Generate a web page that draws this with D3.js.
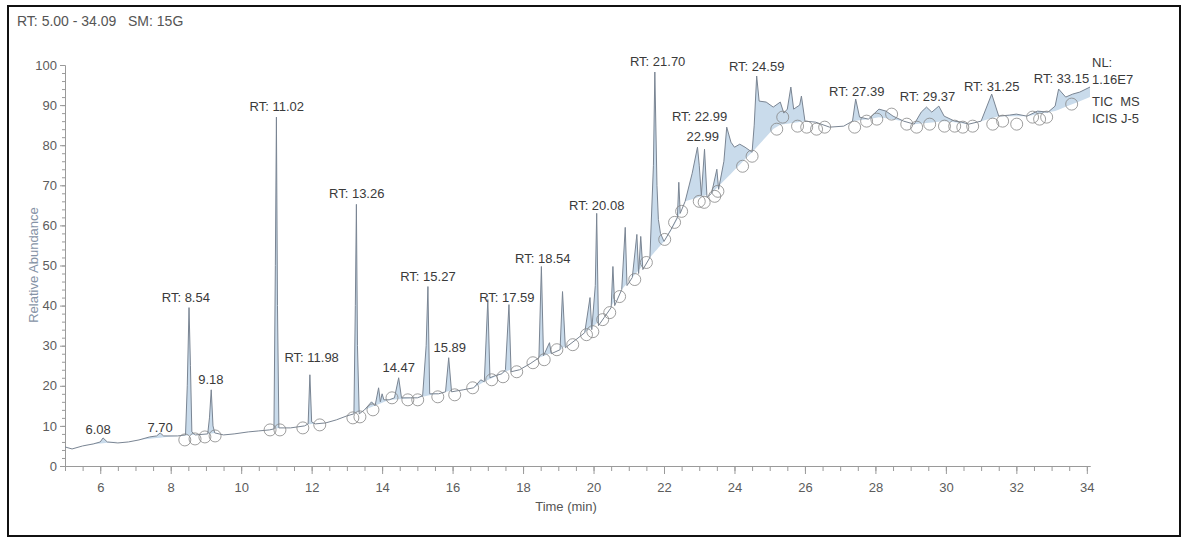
<!DOCTYPE html>
<html lang="en">
  <head>
    <meta charset="UTF-8" />
    <title>TIC chromatogram</title>
    <script src="https://cdn.jsdelivr.net/npm/d3@7"></script>
    <style>
      body { margin: 0; background: #fff; }
      text {
        font-family: "Liberation Sans", Arial, sans-serif;
      }
      .axis text { font-size: 13px; fill: #5c5c5c; }
      .axis path, .axis line { stroke: #9a9a9a; stroke-width: 1px; }
      .peak { font-size: 13px; fill: #3a3a3a; text-anchor: middle; }
      .info { font-size: 13px; fill: #3a3a3a; }
      .trace { fill: none; stroke: #7a8593; stroke-width: 1px; }
      .fillArea { fill: #c9dbeb; }
      .mark { fill: none; stroke: #858585; stroke-width: 0.8px; }
    </style>
  </head>
  <body>
    <script>

    // chromatogram trace: [time (min), relative abundance]
    var trace = [
      [5.00, 4.75], [5.2, 4.25], [5.5, 5.0], [5.8, 5.5], [6.0, 6.0], [6.08, 7.0], [6.2, 6.0],
      [6.5, 5.75], [6.8, 6.0], [7.1, 6.5], [7.4, 7.25], [7.6, 7.5], [7.70, 8.25], [7.8, 7.5],
      [8.2, 7.5], [8.42, 7.75], [8.47, 20], [8.52, 39.5], [8.56, 25], [8.6, 8.5], [8.7, 7.75],
      [9.05, 8.0], [9.1, 12], [9.15, 19], [9.2, 10], [9.25, 8.25], [9.5, 7.75], [9.8, 8.0],
      [10.2, 8.5], [10.5, 8.75], [10.8, 9.0], [10.93, 9.25], [10.97, 50], [11.0, 87], [11.03, 40],
      [11.07, 9.5], [11.4, 9.5], [11.8, 10.0], [11.9, 10.5], [11.95, 22.75], [12.0, 11], [12.1, 10.5],
      [12.4, 10.75], [12.7, 11.5], [13.0, 12.5], [13.2, 13], [13.24, 40], [13.27, 65.25], [13.3, 30],
      [13.35, 13], [13.5, 14], [13.7, 16], [13.8, 15], [13.9, 19.5], [13.95, 16], [14.0, 18],
      [14.05, 16.5], [14.2, 16.5], [14.35, 17], [14.47, 22], [14.55, 17], [14.8, 17], [15.0, 17],
      [15.15, 17.5], [15.25, 30], [15.3, 44.75], [15.35, 18], [15.6, 18], [15.8, 18.5], [15.89, 27],
      [15.97, 18.5], [16.3, 19], [16.6, 19.5], [16.8, 21.5], [16.9, 21], [17.0, 41.5], [17.06, 22],
      [17.2, 22.5], [17.4, 23], [17.5, 24], [17.6, 40.25], [17.66, 23.5], [17.9, 24], [18.2, 25.5],
      [18.45, 27], [18.52, 49.75], [18.58, 27.5], [18.75, 30.75], [18.8, 28], [19.05, 29], [19.12, 43.5],
      [19.2, 29.5], [19.5, 31.5], [19.75, 33.25], [19.9, 42], [19.95, 34], [20.05, 45], [20.09, 63],
      [20.14, 35], [20.3, 37], [20.5, 39.5], [20.55, 49.75], [20.6, 40], [20.8, 44], [20.9, 59.5],
      [20.95, 45], [21.1, 47], [21.23, 57.75], [21.28, 48], [21.34, 57.25], [21.4, 49], [21.6, 52],
      [21.7, 75], [21.74, 98.25], [21.8, 70], [21.84, 61.5], [21.9, 58], [22.0, 56], [22.2, 59],
      [22.38, 62], [22.42, 70.75], [22.46, 63], [22.6, 66], [22.8, 73], [22.95, 79.5], [23.0, 75],
      [23.06, 67.5], [23.15, 79], [23.22, 67], [23.35, 68], [23.5, 74], [23.55, 69], [23.7, 76],
      [23.78, 84.5], [23.9, 80.75], [24.0, 79.5], [24.15, 80.25], [24.3, 79.5], [24.5, 78.25],
      [24.56, 85], [24.63, 97.25], [24.7, 91], [24.9, 90.75], [25.1, 89.5], [25.3, 90.75], [25.4, 88],
      [25.5, 89], [25.6, 94.5], [25.68, 89], [25.85, 90], [25.9, 92.25], [26.0, 86], [26.3, 85.75],
      [26.7, 84.5], [27.1, 84.75], [27.35, 86], [27.44, 91.5], [27.55, 87], [27.8, 86.5], [28.1, 89],
      [28.3, 88.5], [28.5, 87.25], [28.8, 86], [29.1, 85.25], [29.3, 88.25], [29.45, 89.5],
      [29.6, 88.25], [29.8, 89.75], [29.95, 87.25], [30.25, 86], [30.45, 85.75], [30.65, 85.25],
      [31.0, 86], [31.3, 92.75], [31.5, 87.25], [31.8, 87.5], [32.0, 87.75], [32.3, 87.25],
      [32.6, 88.5], [32.9, 88.25], [33.1, 89.75], [33.2, 94], [33.4, 92], [33.6, 92.75],
      [33.8, 93.25], [34.09, 94.5]
    ];

    // integration baseline under the peaks: [time, abundance]
    var baseline = [
      [5.0, 4.75], [8.2, 7.5], [8.7, 7.75], [9.05, 8], [9.25, 8.25], [10.9, 9.25], [11.1, 9.5],
      [11.85, 10.4], [12.1, 10.5], [13.2, 13], [13.5, 14], [14.2, 16.5], [15.0, 17], [15.8, 18.5],
      [16.6, 19.5], [16.9, 21], [17.5, 23.5], [18.45, 27], [19.05, 29], [19.75, 33.25], [20.3, 37],
      [20.8, 44], [21.6, 52], [22.0, 56], [22.3, 60], [22.6, 66], [23.35, 68], [24.5, 78.25],
      [25.2, 85], [26.0, 86], [26.3, 85.75], [26.7, 84.5], [27.1, 84.75], [27.35, 86], [27.8, 86.5],
      [28.1, 87], [28.8, 86], [29.1, 85.25], [30.0, 86], [30.65, 85.25], [31.0, 86], [31.5, 87.25],
      [32.3, 87.25], [33.1, 88.5], [34.09, 92]
    ];

    // baseline markers (circles): [time, abundance]
    var markers = [
      [8.4, 6.5], [8.69, 6.75], [8.97, 7.25], [9.26, 7.5], [10.82, 9], [11.1, 9], [11.75, 9.5],
      [12.23, 10.25], [13.17, 12], [13.37, 12.25], [13.74, 14], [14.28, 17], [14.73, 16.5],
      [15.01, 16.5], [15.58, 17.25], [16.06, 17.75], [16.57, 19.5], [17.11, 21.5], [17.43, 22.25],
      [17.82, 23.5], [18.28, 25.75], [18.6, 26.5], [18.96, 29], [19.41, 30.25], [19.8, 32.75],
      [19.98, 33.5], [20.26, 36.5], [20.46, 38.25], [20.74, 42.25], [21.17, 46.5], [21.5, 50.75],
      [22.02, 56.5], [22.3, 60.75], [22.5, 63.5], [23.0, 66], [23.14, 65.75], [23.44, 67.25],
      [23.53, 68.5], [24.23, 74.75], [24.5, 77.25], [25.2, 84], [25.37, 87], [25.79, 84.75],
      [26.05, 84.5], [26.33, 84], [26.56, 84.5], [27.41, 84.5], [27.75, 86], [28.04, 86.5],
      [28.46, 87.75], [28.89, 85.25], [29.17, 84.5], [29.54, 85.25], [29.96, 84.75], [30.25, 84.75],
      [30.48, 84.5], [30.76, 84.75], [31.33, 85.25], [31.61, 86], [32.01, 85.25], [32.46, 87],
      [32.66, 86.5], [32.86, 87], [33.57, 90.25]
    ];

    // peak labels: [text, time under label centre, abundance at label baseline]
    var peakLabels = [
      ["6.08", 5.94, 8], ["7.70", 7.70, 8.5], ["RT: 8.54", 8.43, 41], ["9.18", 9.14, 20.5],
      ["RT: 11.02", 11.01, 88.5], ["RT: 11.98", 12.0, 26], ["RT: 13.26", 13.28, 66.75],
      ["14.47", 14.47, 23.5], ["RT: 15.27", 15.3, 46.25], ["15.89", 15.92, 28.5],
      ["RT: 17.59", 17.54, 41], ["RT: 18.54", 18.56, 50.5], ["RT: 20.08", 20.09, 63.75],
      ["RT: 21.70", 21.82, 99.75], ["RT: 22.99", 23.01, 86], ["22.99", 23.1, 81],
      ["RT: 24.59", 24.63, 98.5], ["RT: 27.39", 27.47, 92.25], ["RT: 29.37", 29.48, 91],
      ["RT: 31.25", 31.3, 93.5], ["RT: 33.15", 33.28, 95.5]
    ];

    var xTicks = [6, 8, 10, 12, 14, 16, 18, 20, 22, 24, 26, 28, 30, 32, 34];
    var yTicks = [0, 10, 20, 30, 40, 50, 60, 70, 80, 90, 100];
    var infoLines = ["NL:", "1.16E7", "TIC  MS", "ICIS J-5"];

    var w = 1187,
        h = 541;

    var svg = d3.select("body").append("svg")
      .attr("width", w)
      .attr("height", h);

    // outer frame
    svg.append("rect")
      .attr("x", 8).attr("y", 6)
      .attr("width", 1172).attr("height", 530)
      .attr("fill", "none")
      .attr("stroke", "#111")
      .attr("stroke-width", 2);

    var xScale = d3.scaleLinear()
      .domain([5, 34.09])
      .range([65, 1090]);

    var yScale = d3.scaleLinear()
      .domain([0, 100])
      .range([466, 65]);

    // piecewise baseline, used for the shaded peak areas
    var baseAt = d3.scaleLinear()
      .domain(baseline.map(function(d) { return d[0]; }))
      .range(baseline.map(function(d) { return d[1]; }));

    // shaded areas between trace and baseline
    var area = d3.area()
      .x(function(d) { return xScale(d[0]); })
      .y0(function(d) { return yScale(baseAt(d[0])); })
      .y1(function(d) { return yScale(Math.max(d[1], baseAt(d[0]))); });

    svg.append("path")
      .datum(trace)
      .attr("class", "fillArea")
      .attr("d", area);

    // minor ticks
    svg.append("g")
      .attr("class", "axis")
      .attr("transform", "translate(0," + yScale(0) + ")")
      .call(d3.axisBottom(xScale)
        .tickValues(d3.range(5, 34.01, 0.5))
        .tickSize(5).tickSizeOuter(0).tickFormat(""));

    svg.append("g")
      .attr("class", "axis")
      .attr("transform", "translate(0," + yScale(0) + ")")
      .call(d3.axisBottom(xScale)
        .tickValues(xTicks)
        .tickSize(8).tickSizeOuter(0).tickPadding(9));

    svg.append("g")
      .attr("class", "axis")
      .attr("transform", "translate(" + xScale(5) + ",0)")
      .call(d3.axisLeft(yScale)
        .tickValues(d3.range(0, 100.1, 2))
        .tickSize(3).tickSizeOuter(0).tickFormat(""));

    svg.append("g")
      .attr("class", "axis")
      .attr("transform", "translate(" + xScale(5) + ",0)")
      .call(d3.axisLeft(yScale)
        .tickValues(yTicks)
        .tickSize(5).tickSizeOuter(0).tickPadding(3));

    // trace line
    var line = d3.line()
      .x(function(d) { return xScale(d[0]); })
      .y(function(d) { return yScale(d[1]); });

    svg.append("path")
      .datum(trace)
      .attr("class", "trace")
      .attr("d", line);

    // baseline circles
    svg.selectAll("circle.mark")
      .data(markers)
      .enter()
      .append("circle")
      .attr("class", "mark")
      .attr("cx", function(d) { return xScale(d[0]); })
      .attr("cy", function(d) { return yScale(d[1]); })
      .attr("r", 6);

    // peak labels
    svg.selectAll("text.peak")
      .data(peakLabels)
      .enter()
      .append("text")
      .attr("class", "peak")
      .attr("x", function(d) { return xScale(d[1]); })
      .attr("y", function(d) { return yScale(d[2]); })
      .text(function(d) { return d[0]; });

    // header
    svg.append("text")
      .attr("class", "info")
      .attr("x", 17).attr("y", 26)
      .style("fill", "#555")
      .style("font-size", "14px")
      .style("white-space", "pre")
      .text("RT: 5.00 - 34.09   SM: 15G");

    // info block on the right
    svg.selectAll("text.side")
      .data(infoLines)
      .enter()
      .append("text")
      .attr("class", "info side")
      .attr("x", 1092)
      .style("white-space", "pre")
      .attr("y", function(d, i) { return [67, 84, 106, 123][i]; })
      .text(function(d) { return d; });

    // axis titles
    svg.append("text")
      .attr("x", 566).attr("y", 511)
      .attr("text-anchor", "middle")
      .style("font-size", "13px")
      .style("fill", "#555")
      .text("Time (min)");

    svg.append("text")
      .attr("transform", "translate(38,265) rotate(-90)")
      .attr("text-anchor", "middle")
      .style("font-size", "13px")
      .style("fill", "#8593a6")
      .text("Relative Abundance");

    </script>
  </body>
</html>
